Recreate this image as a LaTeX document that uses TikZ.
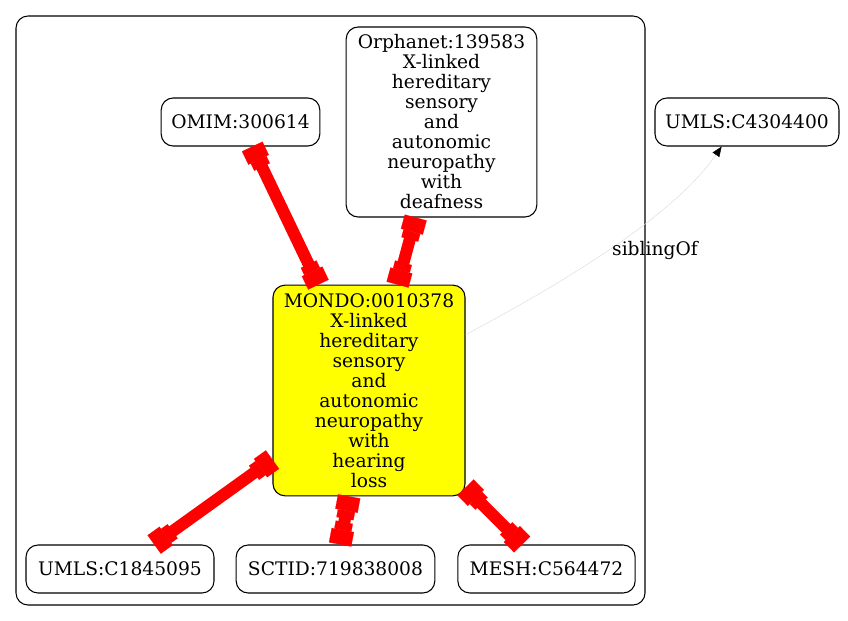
\documentclass[tikz,border=0pt]{standalone}
\usepackage{fontspec}
\setmainfont{DejaVu Serif}
\usetikzlibrary{arrows.meta}
\definecolor{mondoyellow}{RGB}{255,255,0}

\begin{document}
\begin{tikzpicture}[x=0.75pt, y=-0.75pt,
    term/.style={draw, line width=0.8pt, rounded corners=9pt, align=center, inner sep=2pt, minimum height=36pt, font=\fontsize{14}{15}\selectfont},
    xref/.style={red, line width=9pt, {Square[length=11pt,width=17pt,sep=0pt,line width=0.1pt]Square[length=6pt,width=13pt,sep=0pt,line width=0.1pt]}-{Square[length=6pt,width=13pt,sep=0pt,line width=0.1pt]Square[length=11pt,width=17pt,sep=0pt,line width=0.1pt]}},
    sib/.style={black!15, line width=0.3pt, -{Triangle[length=7.5pt,width=6pt,black]}}]
        \useasboundingbox (0,0) rectangle (848,620);
        \draw[line width=0.8pt, rounded corners=9pt] (16,16) rectangle (645,605);

        \node[term, minimum width=119pt] (omim) at (240.5,122) {OMIM:300614};
        \node[term, minimum width=143pt, minimum height=142.5pt] (orpha) at (441.5,122) {Orphanet:139583\\X-linked\\hereditary\\sensory\\and\\autonomic\\neuropathy\\with\\deafness};
        \node[term, minimum width=138pt] (umlsb) at (747,122) {UMLS:C4304400};
        \node[term, fill=mondoyellow, minimum width=144pt, minimum height=158pt] (mondo) at (369,390.5) {MONDO:0010378\\X-linked\\hereditary\\sensory\\and\\autonomic\\neuropathy\\with\\hearing\\loss};
        \node[term, minimum width=141pt] (umlsa) at (120,569) {UMLS:C1845095};
        \node[term, minimum width=149pt] (sctid) at (335.5,569) {SCTID:719838008};
        \node[term, minimum width=133pt] (mesh) at (546.5,569) {MESH:C564472};

        \draw[xref] (omim) -- (mondo);
        \draw[xref] (orpha) -- (mondo);
        \draw[xref] (mondo) -- (umlsa);
        \draw[xref] (mondo) -- (sctid);
        \draw[xref] (mondo) -- (mesh);

        \draw[sib] (mondo.30) .. controls (540,295) and (670,222) .. (umlsb.224)
            node[black, font=\fontsize{14}{15}\selectfont] at (655,250) {siblingOf};
    \end{tikzpicture}
\end{document}
